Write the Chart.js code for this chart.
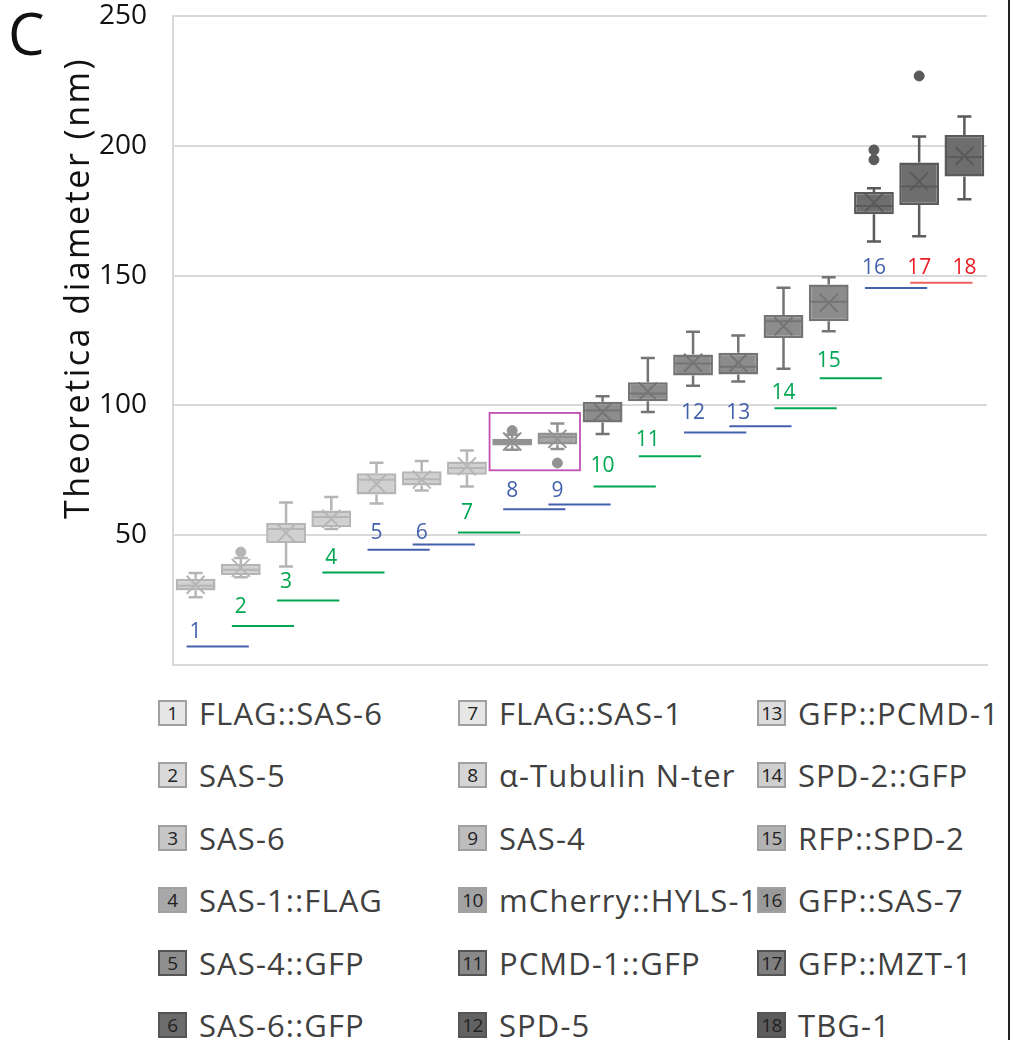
<!DOCTYPE html>
<html>
<head>
<meta charset="utf-8">
<script src="https://cdn.jsdelivr.net/npm/chart.js@4.4.0/dist/chart.umd.min.js"></script>
<style>
  body { margin: 0; background: #fff; font-family: "Open Sans", sans-serif; }
  #wrap { position: relative; width: 1013px; height: 1040px; overflow: hidden; }
  #box { position: absolute; left: 0; top: 0; width: 1013px; height: 680px; }
  .panel { position: absolute; left: 8px; top: 4px; font-size: 58px; line-height: 1; color: #111; }
  .ytitle { position: absolute; left: 76px; top: 288px; transform: translate(-50%, -50%) rotate(-90deg);
            font-size: 34px; letter-spacing: 2.5px; white-space: nowrap; color: #111; line-height: 1; }
  .frame { position: absolute; left: 1008px; top: 0; width: 2px; height: 1040px; background: #222; }
  .item { position: absolute; height: 34px; display: flex; align-items: center; }
  .sw { box-sizing: border-box; width: 29px; height: 26px; border: 2px solid #999; font-size: 19px;
        display: flex; align-items: center; justify-content: center; color: #222; margin-right: 12px;
        letter-spacing: -0.5px; }
  .lab { font-size: 31px; letter-spacing: 1.1px; color: #404040; white-space: nowrap; }
</style>
</head>
<body>
<div id="wrap">
  <div id="box"><canvas id="boxChart"></canvas></div>
  <div class="panel">C</div>
  <div class="ytitle">Theoretica diameter (nm)</div>
  <div id="legend"></div>
  <div class="frame"></div>
</div>
<script>
const categories = ['1','2','3','4','5','6','7','8','9','10','11','12','13','14','15','16','17','18'];
const names = ['FLAG::SAS-6','SAS-5','SAS-6','SAS-1::FLAG','SAS-4::GFP','SAS-6::GFP',
  'FLAG::SAS-1','α-Tubulin N-ter','SAS-4','mCherry::HYLS-1','PCMD-1::GFP','SPD-5',
  'GFP::PCMD-1','SPD-2::GFP','RFP::SPD-2','GFP::SAS-7','GFP::MZT-1','TBG-1'];

const whiskerLow  = [26.1,33.8,37.9,52.4,62.2,67.2,68.8,82.9,83.2,89.0,97.5,107.6,109.2,114.1,128.6,163.1,165.2,179.4];
const q1          = [28.7,34.7,47.0,53.1,65.7,69.1,73.3,84.6,84.9,93.4,101.6,111.5,111.9,126.0,132.4,173.6,177.2,188.2];
const median      = [30.5,36.7,52.4,57.0,71.4,71.6,75.9,85.9,87.8,98.0,104.6,116.1,114.9,132.4,139.9,176.8,184.3,195.7];
const q3          = [33.2,38.9,54.7,59.5,73.9,74.6,78.4,87.2,89.6,101.4,108.9,119.6,120.3,134.8,146.6,182.2,193.6,204.2];
const whiskerHigh = [35.4,41.2,62.6,64.7,77.9,78.6,82.6,88.7,93.0,103.5,118.3,128.4,126.9,145.3,149.4,183.6,203.6,211.3];
const means       = [30.9,37.4,50.8,56.3,69.7,71.4,76.5,86.1,87.1,97.4,105.4,116.4,116.4,130.5,139.5,178.1,186.3,196.1];

const outlierCat = ['2','8','9','16','16','17'];
const outlierVal = [43.5,90.3,77.8,198.4,194.6,226.9];

// numbered group labels under the boxes
const labelLevel = [12.7,22.5,32.1,41.3,51.0,51.0,58.5,66.9,66.9,76.5,86.8,97.1,97.1,104.8,117.0,153.0,153.0,153.0];
const labelGroup = ['b','g','g','g','b','b','g','b','b','g','g','b','b','g','g','b','r','r'];

const lineStart = ['1','2','3','4','5','6','7','8','9','10','11','12','13','14','15','16','17'];
const lineEnd   = ['2','3','4','5','6','7','8','9','10','11','12','13','14','15','16','17','18'];
const lineLevel = [7.1,15.0,24.8,35.6,44.4,46.4,51.0,60.0,61.8,68.8,80.4,89.6,92.0,98.9,110.5,145.2,147.2];
const lineGroup = ['b','g','g','g','b','b','g','b','b','g','g','b','b','g','g','b','r'];

// highlighted pair (8 and 9)
const boxFrom = '8', boxTo = '9', boxLow = 75.0, boxHigh = 97.1;

const yTicks = [0, 50, 100, 150, 200, 250];

// styles
const fills   = ['#d0d0d0','#a6a6a6','#8c8c8c','#6e6e6e'];
const strokes = ['#b5b5b5','#929292','#747474','#5a5a5a'];
function tone(i) { return i < 7 ? 0 : i < 9 ? 1 : i < 15 ? 2 : 3; }
const textColors = { b: '#4361ad', g: '#00a651', r: '#ed1c24' };
const lineColors = { b: '#4361ad', g: '#00a651', r: '#f06060' };
const legendFill = ['#e6e6e6','#d9d9d9','#c6c6c6','#a8a8a8','#8e8e8e','#6c6c6c',
  '#e6e6e6','#d5d5d5','#bdbdbd','#a2a2a2','#898989','#626262',
  '#dcdcdc','#cfcfcf','#b3b3b3','#9a9a9a','#7f7f7f','#5b5b5b'];

const boxExtras = {
  id: 'boxExtras',
  afterDatasetsDraw(chart) {
    const { ctx, scales: { x, y } } = chart;
    ctx.save();
    ctx.lineCap = 'butt';
    categories.forEach((c, i) => {
      const cx = x.getPixelForValue(i);
      const half = chart.getDatasetMeta(0).data[i].width / 2;
      ctx.strokeStyle = strokes[tone(i)];
      // whiskers + caps
      ctx.lineWidth = 2.5;
      ctx.beginPath();
      ctx.moveTo(cx, y.getPixelForValue(q3[i])); ctx.lineTo(cx, y.getPixelForValue(whiskerHigh[i]));
      ctx.moveTo(cx, y.getPixelForValue(q1[i])); ctx.lineTo(cx, y.getPixelForValue(whiskerLow[i]));
      ctx.moveTo(cx - 7, y.getPixelForValue(whiskerHigh[i])); ctx.lineTo(cx + 7, y.getPixelForValue(whiskerHigh[i]));
      ctx.moveTo(cx - 7, y.getPixelForValue(whiskerLow[i])); ctx.lineTo(cx + 7, y.getPixelForValue(whiskerLow[i]));
      ctx.stroke();
      // median
      ctx.lineWidth = 2;
      ctx.beginPath();
      ctx.moveTo(cx - half + 1, y.getPixelForValue(median[i]));
      ctx.lineTo(cx + half - 1, y.getPixelForValue(median[i]));
      ctx.stroke();
      // mean marker
      const my = y.getPixelForValue(means[i]);
      ctx.beginPath();
      ctx.moveTo(cx - 9, my - 9); ctx.lineTo(cx + 9, my + 9);
      ctx.moveTo(cx + 9, my - 9); ctx.lineTo(cx - 9, my + 9);
      ctx.stroke();
    });

    // group lines
    ctx.lineWidth = 2;
    lineLevel.forEach((v, k) => {
      const ly = y.getPixelForValue(v);
      ctx.strokeStyle = lineColors[lineGroup[k]];
      ctx.beginPath();
      ctx.moveTo(x.getPixelForValue(lineStart[k]) - 9, ly);
      ctx.lineTo(x.getPixelForValue(lineEnd[k]) + 8, ly);
      ctx.stroke();
    });

    // group numbers
    ctx.font = '21px "Open Sans"';
    ctx.textAlign = 'center';
    ctx.textBaseline = 'middle';
    categories.forEach((c, i) => {
      ctx.fillStyle = textColors[labelGroup[i]];
      ctx.fillText(c, x.getPixelForValue(i), y.getPixelForValue(labelLevel[i]));
    });

    // highlight frame
    const x0 = x.getPixelForValue(categories.indexOf(boxFrom) - 0.5);
    const x1 = x.getPixelForValue(categories.indexOf(boxTo) + 0.5);
    const y0 = y.getPixelForValue(boxHigh), y1 = y.getPixelForValue(boxLow);
    ctx.strokeStyle = '#c24fb3';
    ctx.lineWidth = 1.8;
    ctx.strokeRect(x0, y0, x1 - x0, y1 - y0);
    ctx.restore();
  }
};

new Chart('boxChart', {
  type: 'bar',
  data: {
    labels: categories,
    datasets: [{
      data: q1.map((v, i) => [v, q3[i]]),
      backgroundColor: categories.map((c, i) => fills[tone(i)]),
      borderColor: categories.map((c, i) => strokes[tone(i)]),
      borderWidth: 2.5,
      borderSkipped: false,
      categoryPercentage: 1,
      barPercentage: 0.88
    }, {
      type: 'scatter',
      data: outlierCat.map((c, i) => ({ x: c, y: outlierVal[i] })),
      pointRadius: 5,
      pointBackgroundColor: outlierCat.map(c => strokes[tone(categories.indexOf(c))]),
      pointBorderColor: outlierCat.map(c => strokes[tone(categories.indexOf(c))]),
      pointBorderWidth: 1
    }]
  },
  options: {
    responsive: true,
    maintainAspectRatio: false,
    animation: false,
    layout: { padding: { left: 0, right: 26, top: 16, bottom: 15 } },
    plugins: { legend: { display: false }, tooltip: { enabled: false } },
    scales: {
      x: {
        type: 'category',
        offset: true,
        grid: { display: false, drawTicks: false },
        border: { display: true, color: '#d9d9d9', width: 2 },
        ticks: { display: false }
      },
      y: {
        min: 0, max: 250,
        afterFit(scale) { scale.width = 173; },
        afterBuildTicks(scale) { scale.ticks = yTicks.map(v => ({ value: v })); },
        grid: { color: '#d9d9d9', lineWidth: 2, drawTicks: true, tickLength: 26, tickColor: 'rgba(0,0,0,0)' },
        border: { display: true, color: '#d9d9d9', width: 2 },
        ticks: {
          padding: 0,
          color: '#111',
          font: { family: 'Open Sans', size: 28, lineHeight: 1 },
          callback: v => v === 0 ? '' : v
        }
      }
    }
  },
  plugins: [boxExtras]
});

// legend grid, 3 columns x 6 rows
const legend = document.getElementById('legend');
const colX = [158, 458, 757];
names.forEach((n, i) => {
  const col = Math.floor(i / 6), row = i % 6;
  const item = document.createElement('div');
  item.className = 'item';
  item.style.left = colX[col] + 'px';
  item.style.top = (713 + row * 62.4 - 17) + 'px';
  const sw = document.createElement('div');
  sw.className = 'sw';
  sw.style.background = legendFill[i];
  sw.style.borderColor = i % 6 > 3 ? '#555' : '#a0a0a0';
  sw.textContent = categories[i];
  const lab = document.createElement('span');
  lab.className = 'lab';
  lab.textContent = n;
  item.appendChild(sw);
  item.appendChild(lab);
  legend.appendChild(item);
});
</script>
</body>
</html>
